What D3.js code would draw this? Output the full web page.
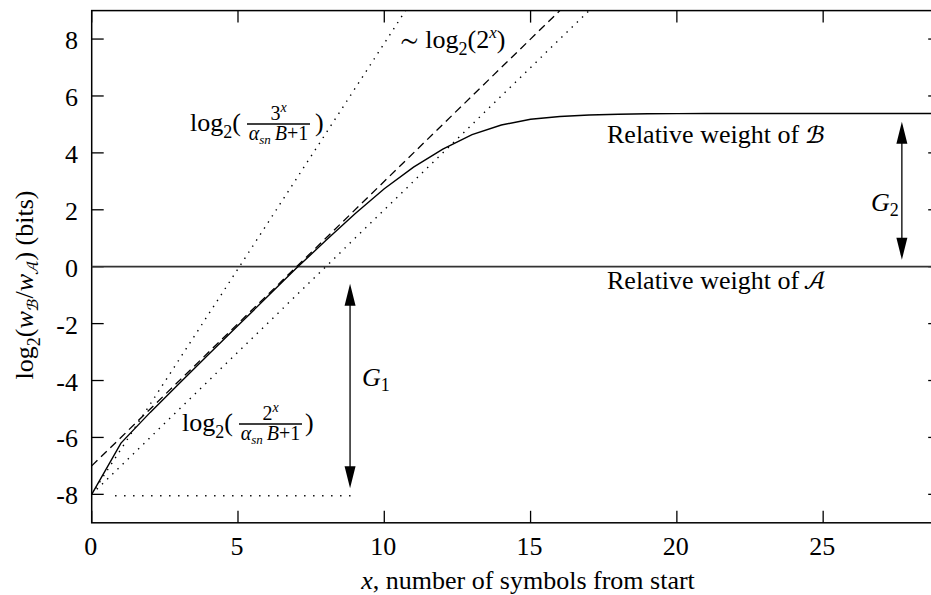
<!DOCTYPE html>
<html><head><meta charset="utf-8">
<script src="https://cdn.jsdelivr.net/npm/d3@7"></script>
<style>body{margin:0;background:#fff} svg{display:block}</style>
</head><body>
<svg id="c" width="931" height="595"></svg>
<script>
// ---- data ----
const xTicks = [0, 5, 10, 15, 20, 25];
const yTicks = [-8, -6, -4, -2, 0, 2, 4, 6, 8];
const solidX = [0,1,2,3,4,5,6,7,8,9,10,11,12,13,14,15,16,17,18,19,20,21,22,23,24,25,26,27,28,29];
const solidY = [-8,-6.2,-5.12,-4.1,-3.08,-2.07,-1.06,-0.05,0.92,1.86,2.74,3.5,4.13,4.64,4.98,5.18,5.28,5.33,5.36,5.375,5.38,5.385,5.385,5.385,5.385,5.385,5.385,5.385,5.385,5.385];
const dashedX = [0, 16];            // ~ log2(2^x)
const dashedY = [-7, 9];
const dot2X = [0, 17];              // log2(2^x/(a B+1))
const dot2Y = [-8, 9];
const dot3X = [0, 10.726];          // log2(3^x/(a B+1))
const dot3Y = [-8, 9];
const floorX = [0.8, 9.1];          // floor level
const floorY = [-8.05, -8.05];
const arrowG1 = {x: 8.83, y0: -0.6, y1: -7.79};
const arrowG2 = {x: 27.69, y0: 5.09, y1: 0.24};

const FONT = "'Liberation Serif', monospace";
const MATH = "'STIX Two Math', monospace";

// ---- scales ----
const svg = d3.select("#c");
const x = d3.scaleLinear().domain([0, 29]).range([91.7, 940.2]);
const y = d3.scaleLinear().domain([-9, 9]).range([522.8, 10.6]);
const X0 = x(0), X1 = x(29), Y0 = y(-9), Y1 = y(9);

// frame
svg.append("rect").attr("x", X0).attr("y", Y1).attr("width", X1 - X0).attr("height", Y0 - Y1)
  .attr("fill", "none").attr("stroke", "#000").attr("stroke-width", 1.5);

// ticks (inward, mirrored)
const tl = 12;
const tk = svg.append("g").attr("stroke", "#000").attr("stroke-width", 1.3);
xTicks.forEach(v => {
  tk.append("line").attr("x1", x(v)).attr("x2", x(v)).attr("y1", Y0).attr("y2", Y0 - tl);
  tk.append("line").attr("x1", x(v)).attr("x2", x(v)).attr("y1", Y1).attr("y2", Y1 + tl);
});
yTicks.forEach(v => {
  tk.append("line").attr("x1", X0).attr("x2", X0 + tl).attr("y1", y(v)).attr("y2", y(v));
  tk.append("line").attr("x1", X1).attr("x2", X1 - tl).attr("y1", y(v)).attr("y2", y(v));
});

// tick labels
xTicks.forEach(v => svg.append("text").style("font-family", FONT).attr("font-size", 26)
  .attr("x", x(v) - 1).attr("y", 555).attr("text-anchor", "middle").text(v));
yTicks.forEach(v => svg.append("text").style("font-family", FONT).attr("font-size", 26)
  .attr("x", 78).attr("y", y(v) + 10).attr("text-anchor", "end").text(v));

// zero line
svg.append("line").attr("x1", X0).attr("x2", X1).attr("y1", y(0)).attr("y2", y(0))
  .attr("stroke", "#333").attr("stroke-width", 1.7);

const line = d3.line().x(d => x(d[0])).y(d => y(d[1]));
function pairs(a, b) { return a.map((v, i) => [v, b[i]]); }

const dotStyle = sel => sel.attr("fill", "none").attr("stroke", "#000").attr("stroke-width", 1.4)
  .attr("stroke-dasharray", "1.4 5.8");
svg.append("path").datum(pairs(dot3X, dot3Y)).attr("d", line).call(dotStyle);
svg.append("path").datum(pairs(dot2X, dot2Y)).attr("d", line).call(dotStyle);
svg.append("path").datum(pairs(floorX, floorY)).attr("d", line).call(dotStyle).attr("stroke-dasharray", "1.4 7.6");
svg.append("path").datum(pairs(dashedX, dashedY)).attr("d", line)
  .attr("fill", "none").attr("stroke", "#000").attr("stroke-width", 1.3).attr("stroke-dasharray", "8 5");
svg.append("path").datum(pairs(solidX, solidY)).attr("d", line)
  .attr("fill", "none").attr("stroke", "#000").attr("stroke-width", 1.4);

// arrows
function arrow(a) {
  const px = x(a.x), p0 = y(a.y0), p1 = y(a.y1);
  const L = 22, W = 5.5;
  const g = svg.append("g");
  g.append("line").attr("x1", px).attr("x2", px).attr("y1", p0 + 4).attr("y2", p1 - 4)
    .attr("stroke", "#000").attr("stroke-width", 1.3);
  const s0 = Math.sign(p1 - p0);
  g.append("path").attr("d", `M${px},${p0} L${px - W},${p0 + s0 * L} L${px + W},${p0 + s0 * L} Z`);
  g.append("path").attr("d", `M${px},${p1} L${px - W},${p1 - s0 * L} L${px + W},${p1 - s0 * L} Z`);
}
arrow(arrowG1);
arrow(arrowG2);

// rich text helper
function rich(parent, px, py, parts, anchor) {
  const t = parent.append("text").attr("x", px).attr("y", py).attr("text-anchor", anchor || "start")
    .style("font-family", FONT).attr("font-size", 26);
  let cur = 0;
  parts.forEach(p => {
    const s = t.append("tspan").text(p.t).attr("font-size", p.s || 26);
    const want = p.dy || 0;
    if (want !== cur) { s.attr("dy", want - cur); cur = want; }
    if (p.i) s.attr("font-style", "italic");
    if (p.m) s.style("font-family", MATH);
  });
  return t;
}

const ann = svg.append("g");
// G labels
rich(ann, 362, 386, [{t: "G", i: 1}, {t: "1", s: 18, dy: 5}]);
rich(ann, 871, 211, [{t: "G", i: 1}, {t: "2", s: 18, dy: 5}]);
// relative weight labels
rich(ann, 607, 143, [{t: "Relative weight of "}, {t: "\u212C", m: 1}]);
rich(ann, 607, 289, [{t: "Relative weight of "}, {t: "\uD835\uDC9C", m: 1}]);
// ~ log2(2^x)
rich(ann, 400, 48, [{t: "\u223C", m: 1}, {t: " log"}, {t: "2", s: 18, dy: 7}, {t: "(2", dy: 0}, {t: "x", s: 17, i: 1, dy: -10}, {t: ")", dy: 0}]);

function fracLabel(lx, base, barX0, barX1, parenX, num, den) {
  rich(ann, lx, base, [{t: "log"}, {t: "2", s: 18, dy: 7}, {t: "(", dy: 0}]);
  const bar = base - 7;
  ann.append("line").attr("x1", barX0).attr("x2", barX1).attr("y1", bar).attr("y2", bar)
    .attr("stroke", "#000").attr("stroke-width", 1.6);
  const cx = (barX0 + barX1) / 2;
  rich(ann, cx, bar - 4, num, "middle");
  rich(ann, cx, bar + 16, den, "middle");
  rich(ann, parenX, base, [{t: ")"}]);
}
const denParts = [{t: "\u03B1", s: 20, i: 1}, {t: "sn", s: 13, i: 1, dy: 4}, {t: "\u2009B", s: 20, i: 1, dy: 0}, {t: "+1", s: 20}];
fracLabel(190, 131, 247, 310, 315, [{t: "3", s: 20}, {t: "x", s: 14, i: 1, dy: -8}], denParts);
fracLabel(182, 431, 239, 302, 305, [{t: "2", s: 20}, {t: "x", s: 14, i: 1, dy: -8}], denParts);

// axis labels
rich(svg, 528, 589, [{t: "x", i: 1}, {t: ", number of symbols from start"}], "middle");
const yl = svg.append("g").attr("transform", "translate(33,285) rotate(-90)");
rich(yl, 0, 0, [
  {t: "log"}, {t: "2", s: 18, dy: 7}, {t: "(", dy: 0}, {t: "w", i: 1},
  {t: "\u212C", s: 17, m: 1, dy: 5}, {t: "/", dy: 0}, {t: "w", i: 1},
  {t: "\uD835\uDC9C", s: 17, m: 1, dy: 5}, {t: ")", dy: 0}, {t: " (bits)"}
], "middle");
</script>
</body></html>
